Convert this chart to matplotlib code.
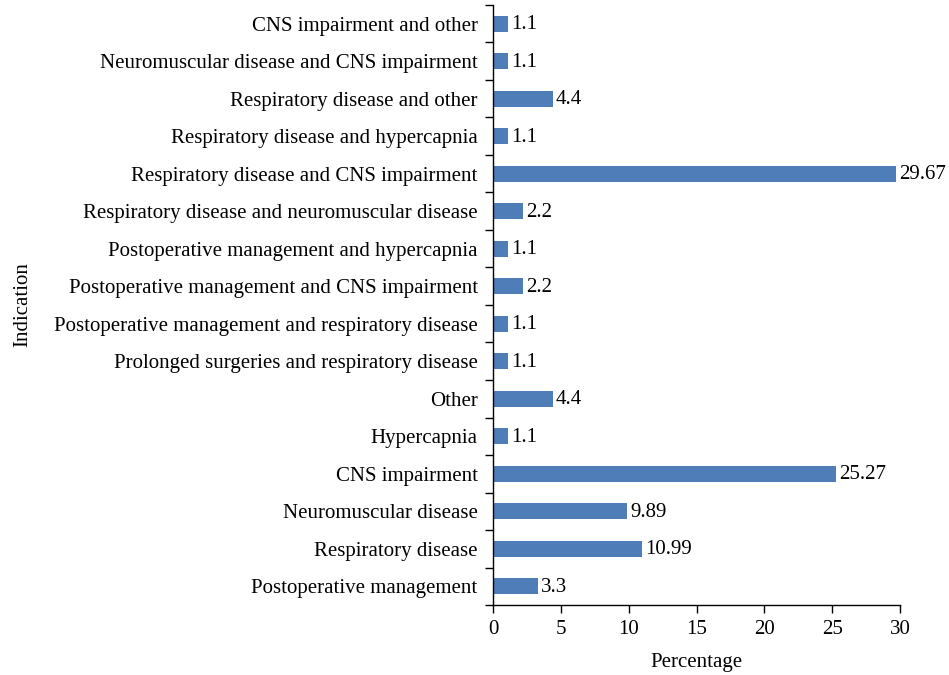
import numpy as np
import matplotlib.pyplot as plt

plt.rcParams['font.family'] = ['Liberation Serif', 'DejaVu Serif']

categories = [
    "Postoperative management",
    "Respiratory disease",
    "Neuromuscular disease",
    "CNS impairment",
    "Hypercapnia",
    "Other",
    "Prolonged surgeries and respiratory disease",
    "Postoperative management and respiratory disease",
    "Postoperative management and CNS impairment",
    "Postoperative management and hypercapnia",
    "Respiratory disease and neuromuscular disease",
    "Respiratory disease and CNS impairment",
    "Respiratory disease and hypercapnia",
    "Respiratory disease and other",
    "Neuromuscular disease and CNS impairment",
    "CNS impairment and other",
]
values = [3.3, 10.99, 9.89, 25.27, 1.1, 4.4, 1.1, 1.1, 2.2, 1.1, 2.2, 29.67, 1.1, 4.4, 1.1, 1.1]
value_labels = ["3.3", "10.99", "9.89", "25.27", "1.1", "4.4", "1.1", "1.1", "2.2", "1.1",
                "2.2", "29.67", "1.1", "4.4", "1.1", "1.1"]

fs = 15

fig = plt.figure(figsize=(9.49, 6.75), dpi=100)
ax = fig.add_axes([0.5195, 0.1037, 0.4289, 0.8889])

y = np.arange(len(categories))
ax.barh(y, values, height=0.43, color='#4F7DB8')
for yi, v, lab in zip(y, values, value_labels):
    ax.text(v + 0.25, yi - 0.03, lab, va='center', ha='left', fontsize=fs)

ax.set_xlim(0, 30)
ax.set_ylim(-0.5, len(categories) - 0.5)
ax.set_xticks(np.arange(0, 31, 5))
ax.set_yticks(y)
ax.set_yticklabels(categories, fontsize=fs)
ax.set_yticks(np.arange(-0.5, len(categories), 1), minor=True)
ax.tick_params(axis='y', which='major', length=0, pad=11)
ax.tick_params(axis='y', which='minor', length=6, direction='out', width=1)
ax.tick_params(axis='x', length=6, direction='out', labelsize=fs, width=1, pad=5)

for s in ['top', 'right']:
    ax.spines[s].set_visible(False)
for s in ['left', 'bottom']:
    ax.spines[s].set_linewidth(1)

ax.set_xlabel("Percentage", fontsize=fs, labelpad=10)
ax.set_ylabel("Indication", fontsize=fs, labelpad=16)

fig.savefig("out.png", dpi=100)
